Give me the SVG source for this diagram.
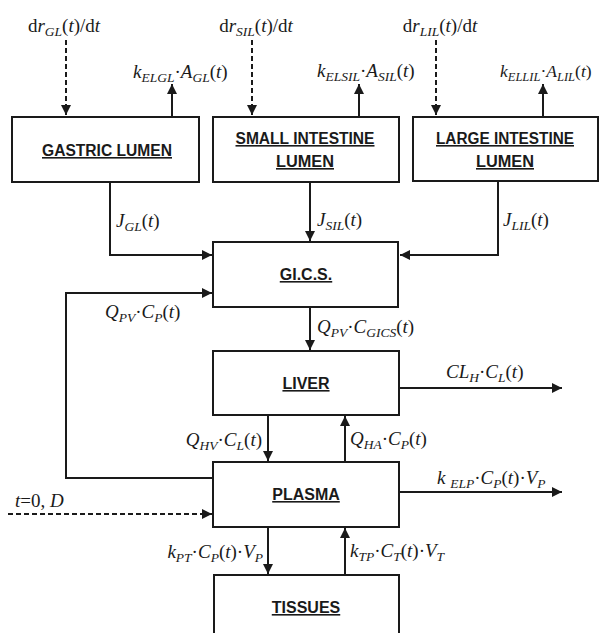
<svg xmlns="http://www.w3.org/2000/svg" width="599" height="633" viewBox="0 0 599 633">
<style>
.box{fill:#fff;stroke:#1a1a1a;stroke-width:2}
.ln{fill:none;stroke:#1a1a1a;stroke-width:2}
.dash{stroke-dasharray:5 3}
.bt{font-family:"Liberation Sans",Arial,sans-serif;font-weight:bold;font-size:16px;fill:#1a1a1a;text-anchor:middle;text-decoration:underline}
.lb{font-family:"Liberation Serif","Times New Roman",serif;font-style:italic;font-size:19px;fill:#1a1a1a}
.r{font-style:normal}
.s{font-size:13.5px;baseline-shift:-4px}
.sm{font-size:17.5px}
.sm .s{font-size:12.5px}
</style>
<defs>
<marker id="ah" markerUnits="userSpaceOnUse" markerWidth="12" markerHeight="10" refX="10" refY="5" orient="auto">
<path d="M0,0 L10,5 L0,10 z" fill="#1a1a1a"/>
</marker>
</defs>
<rect width="599" height="633" fill="#fff"/>
<g id="connectors">
<path class="ln dash" d="M66,40 V115" marker-end="url(#ah)"/>
<path class="ln dash" d="M252,40 V115" marker-end="url(#ah)"/>
<path class="ln dash" d="M436,40 V115" marker-end="url(#ah)"/>
<path class="ln" d="M172,117 V84" marker-end="url(#ah)"/>
<path class="ln" d="M359,117 V84" marker-end="url(#ah)"/>
<path class="ln" d="M543,117 V84" marker-end="url(#ah)"/>
<path class="ln" d="M110,182 V255 H212" marker-end="url(#ah)"/>
<path class="ln" d="M310,182 V241" marker-end="url(#ah)"/>
<path class="ln" d="M498,182 V255 H400" marker-end="url(#ah)"/>
<path class="ln" d="M213,478 H66 V293 H212" marker-end="url(#ah)"/>
<path class="ln" d="M310,307 V350" marker-end="url(#ah)"/>
<path class="ln" d="M399,388 H562" marker-end="url(#ah)"/>
<path class="ln" d="M268,415 V461" marker-end="url(#ah)"/>
<path class="ln" d="M345,462 V416" marker-end="url(#ah)"/>
<path class="ln" d="M399,492 H562" marker-end="url(#ah)"/>
<path class="ln dash" d="M8,514 H212" marker-end="url(#ah)"/>
<path class="ln" d="M268,527 V574" marker-end="url(#ah)"/>
<path class="ln" d="M345,575 V528" marker-end="url(#ah)"/>
</g>
<g id="gastric-lumen">
<rect class="box" x="12" y="117" width="187" height="65"/>
<text class="bt" x="107" y="156" textLength="130" lengthAdjust="spacingAndGlyphs">GASTRIC LUMEN</text>
</g>
<g id="small-intestine-lumen">
<rect class="box" x="213" y="117" width="186" height="65"/>
<text class="bt" x="305" y="144" textLength="139" lengthAdjust="spacingAndGlyphs">SMALL INTESTINE</text>
<text class="bt" x="305" y="167" textLength="58" lengthAdjust="spacingAndGlyphs">LUMEN</text>
</g>
<g id="large-intestine-lumen">
<rect class="box" x="413" y="117" width="185" height="64"/>
<text class="bt" x="505" y="144" textLength="138" lengthAdjust="spacingAndGlyphs">LARGE INTESTINE</text>
<text class="bt" x="505" y="167" textLength="58" lengthAdjust="spacingAndGlyphs">LUMEN</text>
</g>
<g id="gics">
<rect class="box" x="213" y="242" width="185" height="65"/>
<text class="bt" x="306" y="280">GI.C.S.</text>
</g>
<g id="liver">
<rect class="box" x="213" y="351" width="186" height="64"/>
<text class="bt" x="306" y="389">LIVER</text>
</g>
<g id="plasma">
<rect class="box" x="213" y="462" width="186" height="65"/>
<text class="bt" x="306" y="500">PLASMA</text>
</g>
<g id="tissues">
<rect class="box" x="214" y="575" width="185" height="70"/>
<text class="bt" x="306" y="613">TISSUES</text>
</g>
<g id="labels">
<text class="lb" x="64" y="32" text-anchor="middle"><tspan class="r">d</tspan>r<tspan class="s">GL</tspan><tspan class="r">(</tspan>t<tspan class="r">)/d</tspan>t</text>
<text class="lb" x="256" y="32" text-anchor="middle"><tspan class="r">d</tspan>r<tspan class="s">SIL</tspan><tspan class="r">(</tspan>t<tspan class="r">)/d</tspan>t</text>
<text class="lb" x="440" y="32" text-anchor="middle"><tspan class="r">d</tspan>r<tspan class="s">LIL</tspan><tspan class="r">(</tspan>t<tspan class="r">)/d</tspan>t</text>
<text class="lb" x="133" y="78">k<tspan class="s">ELGL</tspan><tspan class="r">·</tspan>A<tspan class="s">GL</tspan><tspan class="r">(</tspan>t<tspan class="r">)</tspan></text>
<text class="lb" x="317" y="77">k<tspan class="s">ELSIL</tspan><tspan class="r">·</tspan>A<tspan class="s">SIL</tspan><tspan class="r">(</tspan>t<tspan class="r">)</tspan></text>
<text class="lb sm" x="500" y="77">k<tspan class="s">ELLIL</tspan><tspan class="r">·</tspan>A<tspan class="s">LIL</tspan><tspan class="r">(</tspan>t<tspan class="r">)</tspan></text>
<text class="lb" x="116" y="227">J<tspan class="s">GL</tspan><tspan class="r">(</tspan>t<tspan class="r">)</tspan></text>
<text class="lb" x="317" y="226">J<tspan class="s">SIL</tspan><tspan class="r">(</tspan>t<tspan class="r">)</tspan></text>
<text class="lb" x="503" y="226">J<tspan class="s">LIL</tspan><tspan class="r">(</tspan>t<tspan class="r">)</tspan></text>
<text class="lb" x="105" y="318">Q<tspan class="s">PV</tspan><tspan class="r">·</tspan>C<tspan class="s">P</tspan><tspan class="r">(</tspan>t<tspan class="r">)</tspan></text>
<text class="lb" x="317" y="333">Q<tspan class="s">PV</tspan><tspan class="r">·</tspan>C<tspan class="s">GICS</tspan><tspan class="r">(</tspan>t<tspan class="r">)</tspan></text>
<text class="lb" x="446" y="378">CL<tspan class="s">H</tspan><tspan class="r">·</tspan>C<tspan class="s">L</tspan><tspan class="r">(</tspan>t<tspan class="r">)</tspan></text>
<text class="lb" x="262" y="446" text-anchor="end">Q<tspan class="s">HV</tspan><tspan class="r">·</tspan>C<tspan class="s">L</tspan><tspan class="r">(</tspan>t<tspan class="r">)</tspan></text>
<text class="lb" x="350" y="445">Q<tspan class="s">HA</tspan><tspan class="r">·</tspan>C<tspan class="s">P</tspan><tspan class="r">(</tspan>t<tspan class="r">)</tspan></text>
<text class="lb" x="437" y="484">k <tspan class="s">ELP</tspan><tspan class="r">·</tspan>C<tspan class="s">P</tspan><tspan class="r">(</tspan>t<tspan class="r">)·</tspan>V<tspan class="s">P</tspan></text>
<text class="lb" x="15" y="507">t<tspan class="r">=0, </tspan>D</text>
<text class="lb" x="263" y="558" text-anchor="end">k<tspan class="s">PT</tspan><tspan class="r">·</tspan>C<tspan class="s">P</tspan><tspan class="r">(</tspan>t<tspan class="r">)·</tspan>V<tspan class="s">P</tspan></text>
<text class="lb" x="350" y="557">k<tspan class="s">TP</tspan><tspan class="r">·</tspan>C<tspan class="s">T</tspan><tspan class="r">(</tspan>t<tspan class="r">)·</tspan>V<tspan class="s">T</tspan></text>
</g>
</svg>
